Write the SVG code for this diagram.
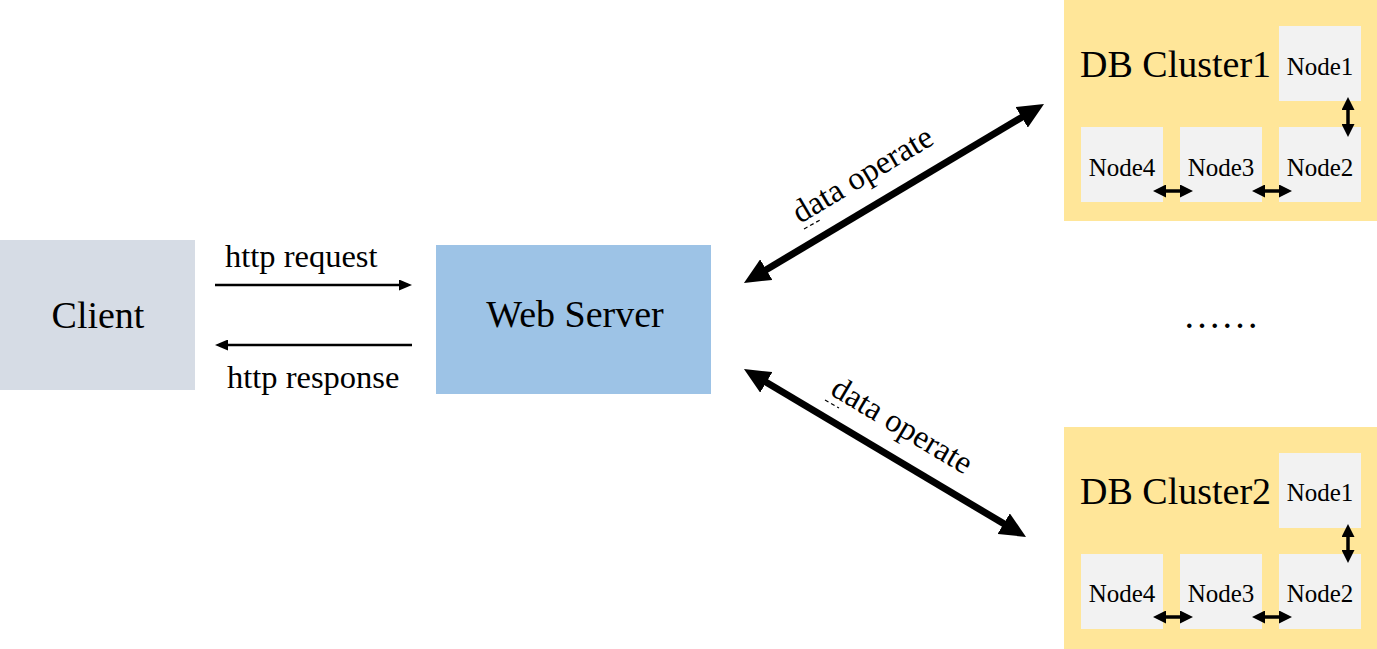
<svg xmlns="http://www.w3.org/2000/svg" width="1377" height="649" viewBox="0 0 1377 649">
<style>
text{font-family:"Liberation Serif","Times New Roman",serif;fill:#000}
.big{font-size:38px}
.lbl{font-size:32.5px}
.nd{font-size:25px;text-anchor:middle}
.node{fill:#F2F2F2}
.cl{fill:#FFE699}
.thick{stroke:#000;stroke-width:7;fill:none;marker-start:url(#hb);marker-end:url(#hb)}
.small{stroke:#000;stroke-width:3.5;fill:none;marker-start:url(#hs);marker-end:url(#hs)}
.thin{stroke:#000;stroke-width:2.5;fill:none;marker-end:url(#ht)}
.sq{stroke:#000;stroke-width:1.2;stroke-dasharray:4 3;fill:none}
</style>
<defs>
<marker id="hb" markerUnits="userSpaceOnUse" markerWidth="26" markerHeight="24" viewBox="0 0 26 24" refX="12" refY="12" orient="auto-start-reverse"><path d="M0,0 L26,12 L0,24 z" fill="#000"/></marker>
<marker id="hs" markerUnits="userSpaceOnUse" markerWidth="13" markerHeight="13" viewBox="0 0 13 13" refX="7" refY="6.5" orient="auto-start-reverse"><path d="M0,0 L13,6.5 L0,13 z" fill="#000"/></marker>
<marker id="ht" markerUnits="userSpaceOnUse" markerWidth="13" markerHeight="11" viewBox="0 0 13 11" refX="9" refY="5.5" orient="auto"><path d="M0,0 L13,5.5 L0,11 z" fill="#000"/></marker>
</defs>
<rect width="1377" height="649" fill="#fff"/>
<g id="client"><rect x="0" y="240" width="195" height="150" fill="#D6DCE5"/><text class="big" x="98" y="328" text-anchor="middle">Client</text></g>
<g id="webserver"><rect x="436" y="245" width="275" height="149" fill="#9DC3E6"/><text class="big" x="575" y="327" text-anchor="middle">Web Server</text></g>
<g id="cluster1">
<rect class="cl" x="1064" y="0" width="313" height="221"/>
<text class="big" x="1080" y="77">DB Cluster1</text>
<g id="c1-node1"><rect class="node" x="1279" y="26" width="82" height="75"/><text class="nd" x="1320" y="75">Node1</text></g>
<g id="c1-node2"><rect class="node" x="1279" y="127" width="82" height="75"/><text class="nd" x="1320" y="176">Node2</text></g>
<g id="c1-node3"><rect class="node" x="1180" y="127" width="82" height="75"/><text class="nd" x="1221" y="176">Node3</text></g>
<g id="c1-node4"><rect class="node" x="1081" y="127" width="82" height="75"/><text class="nd" x="1122" y="176">Node4</text></g>
</g>
<g id="cluster2">
<rect class="cl" x="1064" y="427" width="313" height="222"/>
<text class="big" x="1080" y="504">DB Cluster2</text>
<g id="c2-node1"><rect class="node" x="1279" y="453" width="82" height="75"/><text class="nd" x="1320" y="501">Node1</text></g>
<g id="c2-node2"><rect class="node" x="1279" y="554" width="82" height="75"/><text class="nd" x="1320" y="602">Node2</text></g>
<g id="c2-node3"><rect class="node" x="1180" y="554" width="82" height="75"/><text class="nd" x="1221" y="602">Node3</text></g>
<g id="c2-node4"><rect class="node" x="1081" y="554" width="82" height="75"/><text class="nd" x="1122" y="602">Node4</text></g>
</g>
<g id="ellipsis"><text x="1183" y="328" style="font-size:38px">……</text></g>
<g id="connectors">
<line class="thin" x1="215" y1="285" x2="408" y2="285"/>
<line class="thin" x1="412" y1="345" x2="219" y2="345"/>
<line class="thick" x1="756" y1="275.8" x2="1032" y2="111.2"/>
<line class="thick" x1="756" y1="376.2" x2="1014" y2="529.8"/>
<line class="small" x1="1348" y1="103" x2="1348" y2="131"/>
<line class="small" x1="1159" y1="191" x2="1187" y2="191"/>
<line class="small" x1="1258" y1="191" x2="1286" y2="191"/>
<line class="small" x1="1348" y1="530" x2="1348" y2="557"/>
<line class="small" x1="1159" y1="617" x2="1187" y2="617"/>
<line class="small" x1="1258" y1="617" x2="1286" y2="617"/>
</g>
<g id="labels">
<text class="lbl" x="225" y="267">http request</text>
<text class="lbl" x="227" y="388">http response</text>
<text class="lbl" transform="translate(800,224) rotate(-30.8)">data operate</text>
<line class="sq" x1="804" y1="229" x2="820" y2="220"/>
<text class="lbl" transform="translate(829,394) rotate(30.8)">data operate</text>
<line class="sq" x1="825" y1="400" x2="839" y2="408"/>
</g>
</svg>
